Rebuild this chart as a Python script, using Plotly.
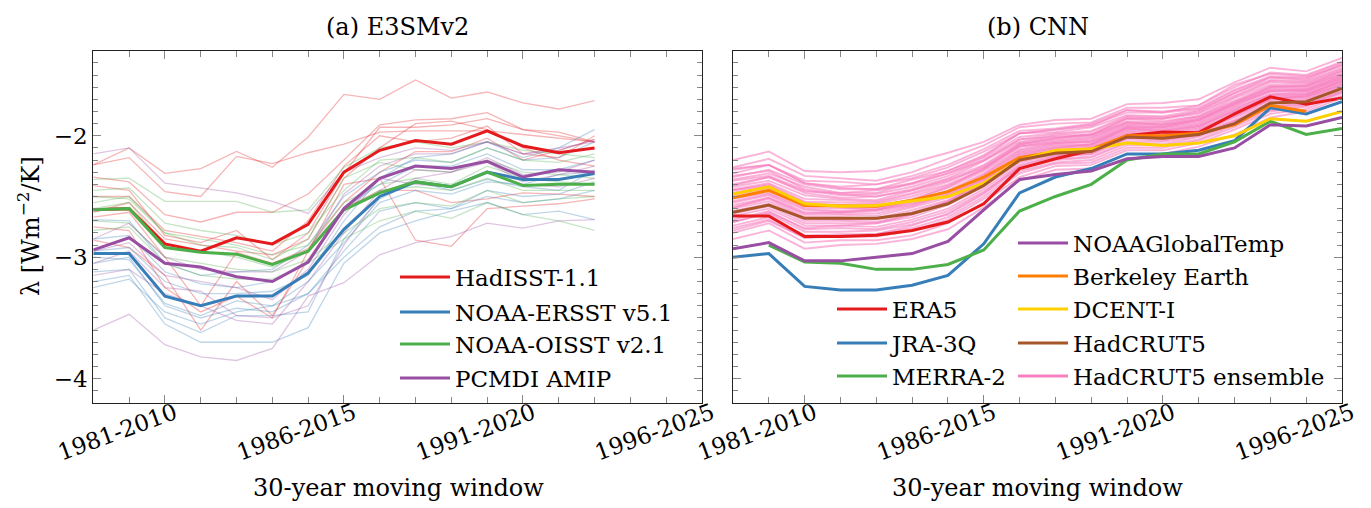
import plotly.graph_objects as go

W, H = 1371, 508

# window start years (each window spans 30 years)
years = list(range(1979, 1997))
years_e3sm = years[:15]
tick_years = [1981, 1986, 1991, 1996]
tick_labels = ["1981-2010", "1986-2015", "1991-2020", "1996-2025"]

# ---------------- (a) E3SMv2: feedback per SST/SIC forcing dataset ----------------
hadisst = [-2.61, -2.60, -2.89, -2.95, -2.84, -2.89, -2.73, -2.30, -2.12, -2.04, -2.07, -1.96, -2.085, -2.14, -2.10]
ersst = [-2.97, -2.97, -3.32, -3.40, -3.32, -3.32, -3.13, -2.77, -2.50, -2.38, -2.42, -2.30, -2.36, -2.36, -2.31]
oisst = [-2.61, -2.60, -2.92, -2.96, -2.975, -3.06, -2.95, -2.61, -2.47, -2.38, -2.42, -2.30, -2.41, -2.40, -2.40]
pcmdi = [-2.94, -2.84, -3.05, -3.08, -3.16, -3.20, -3.04, -2.60, -2.35, -2.25, -2.27, -2.21, -2.34, -2.28, -2.30]

# individual E3SMv2 ensemble members
hadisst_members = [
    [-2.24, -2.10, -2.31, -2.27, -2.13, -2.26, -2.01, -1.66, -1.70, -1.54, -1.69, -1.64, -1.73, -1.78, -1.71],
    [-2.24, -2.18, -2.46, -2.50, -2.17, -2.23, -2.14, -2.07, -1.97, -1.96, -1.96, -1.96, -1.99, -2.02, -2.05],
    [-2.34, -2.38, -2.65, -2.71, -2.63, -2.63, -2.48, -2.20, -1.91, -1.87, -1.86, -1.81, -1.95, -1.97, -2.05],
    [-2.41, -2.45, -2.82, -2.88, -2.78, -3.02, -2.80, -2.31, -1.93, -1.93, -1.91, -1.86, -1.95, -2.00, -2.05],
    [-2.67, -2.63, -3.00, -3.40, -2.96, -3.05, -2.93, -2.55, -2.30, -2.13, -2.13, -2.02, -2.20, -2.12, -2.03],
    [-2.75, -2.78, -3.25, -3.45, -3.32, -3.50, -2.95, -2.40, -2.35, -2.86, -2.91, -2.60, -2.58, -2.56, -2.52],
    [-2.86, -2.92, -3.15, -3.60, -3.20, -3.48, -3.02, -2.60, -2.45, -2.45, -2.55, -2.52, -2.47, -2.48, -2.50],
    [-2.63, -2.55, -2.85, -2.90, -2.95, -2.98, -2.85, -2.35, -2.10, -1.90, -1.88, -1.95, -2.10, -2.20, -2.25],
    [-2.50, -2.50, -2.78, -2.83, -2.88, -2.95, -2.70, -2.25, -2.00, -2.05, -2.02, -1.92, -2.15, -2.18, -2.00],
]
ersst_members = [
    [-2.69, -2.70, -3.05, -3.15, -3.12, -3.10, -2.90, -2.50, -2.30, -2.20, -2.22, -2.10, -2.20, -2.18, -2.05],
    [-3.05, -3.00, -3.40, -3.50, -3.42, -3.45, -3.30, -2.95, -2.62, -2.55, -2.60, -2.45, -2.50, -2.48, -2.38],
    [-3.12, -3.10, -3.50, -3.62, -3.48, -3.48, -3.45, -2.85, -2.52, -2.38, -2.45, -2.36, -2.42, -2.45, -2.28],
    [-3.20, -3.15, -3.55, -3.70, -3.70, -3.70, -3.58, -3.05, -2.80, -2.70, -2.62, -2.55, -2.65, -2.62, -2.69],
    [-3.25, -3.18, -3.45, -3.55, -3.45, -3.40, -3.30, -3.00, -2.75, -2.62, -2.60, -2.50, -2.55, -2.52, -2.45],
    [-2.95, -2.92, -3.20, -3.30, -3.30, -3.28, -3.15, -2.70, -2.35, -2.18, -2.15, -2.05, -2.18, -2.10, -1.95],
    [-2.85, -2.82, -3.12, -3.22, -3.25, -3.20, -3.05, -2.60, -2.40, -2.25, -2.25, -2.15, -2.28, -2.28, -2.20],
    [-3.00, -3.02, -3.38, -3.48, -3.36, -3.40, -3.20, -2.88, -2.55, -2.45, -2.48, -2.38, -2.40, -2.32, -2.30],
]
oisst_members = [
    [-2.36, -2.35, -2.54, -2.54, -2.54, -2.63, -2.61, -2.26, -2.10, -2.05, -2.10, -2.05, -2.12, -2.15, -2.18],
    [-2.45, -2.43, -2.72, -2.78, -2.82, -2.90, -2.80, -2.45, -2.20, -2.18, -2.22, -2.10, -2.20, -2.22, -2.15],
    [-2.50, -2.52, -2.80, -2.85, -2.90, -2.98, -2.90, -2.55, -2.40, -2.35, -2.40, -2.25, -2.35, -2.38, -2.40],
    [-2.70, -2.72, -3.00, -3.05, -3.10, -3.12, -3.02, -2.80, -2.60, -2.55, -2.58, -2.45, -2.55, -2.52, -2.50],
    [-2.78, -2.75, -3.05, -3.15, -3.18, -3.18, -3.05, -2.85, -2.70, -2.62, -2.68, -2.55, -2.65, -2.70, -2.78],
    [-2.60, -2.55, -2.90, -2.95, -3.00, -3.08, -2.95, -2.62, -2.45, -2.42, -2.45, -2.35, -2.45, -2.45, -2.45],
    [-2.55, -2.50, -2.80, -2.90, -2.92, -3.02, -2.85, -2.35, -2.22, -2.28, -2.30, -2.20, -2.30, -2.32, -2.35],
]
pcmdi_members = [
    [-2.15, -2.10, -2.39, -2.43, -2.47, -2.54, -2.64, -2.30, -2.18, -2.10, -2.12, -2.05, -2.15, -2.12, -2.03],
    [-3.60, -3.47, -3.72, -3.82, -3.85, -3.75, -3.32, -3.21, -2.98, -2.88, -2.83, -2.72, -2.76, -2.70, -2.69],
    [-3.05, -2.95, -3.25, -3.28, -3.48, -3.50, -3.40, -2.90, -2.50, -2.35, -2.30, -2.22, -2.38, -2.32, -2.25],
    [-3.15, -3.10, -3.30, -3.40, -3.52, -3.55, -3.20, -2.80, -2.45, -2.28, -2.30, -2.18, -2.32, -2.30, -2.20],
    [-2.85, -2.72, -3.00, -3.10, -3.12, -3.12, -2.95, -2.48, -2.25, -2.15, -2.15, -2.05, -2.15, -2.10, -2.05],
    [-2.95, -2.88, -3.15, -3.20, -3.25, -3.35, -3.10, -2.65, -2.35, -2.40, -2.42, -2.30, -2.40, -2.42, -2.35],
]

# ---------------- (b) CNN: feedback inferred from observed temperature ----------------
era5 = [-2.66, -2.66, -2.83, -2.83, -2.82, -2.78, -2.71, -2.56, -2.27, -2.19, -2.12, -2.00, -1.97, -1.975, -1.82, -1.68, -1.74, -1.69]
jra3q = [-3.00, -2.97, -3.24, -3.27, -3.27, -3.23, -3.15, -2.89, -2.47, -2.34, -2.27, -2.15, -2.15, -2.12, -2.04, -1.77, -1.82, -1.72]
merra2 = [None, -2.90, -3.04, -3.05, -3.10, -3.10, -3.06, -2.94, -2.62, -2.50, -2.40, -2.20, -2.15, -2.15, -2.05, -1.88, -1.99, -1.94]
noaaglobaltemp = [-2.93, -2.88, -3.03, -3.03, -3.00, -2.97, -2.87, -2.61, -2.36, -2.32, -2.29, -2.19, -2.17, -2.17, -2.10, -1.91, -1.92, -1.85]
berkeley = [-2.51, -2.45, -2.575, -2.58, -2.58, -2.53, -2.46, -2.34, -2.18, -2.13, -2.11, -2.00, -2.00, -1.98, -1.91, -1.75, -1.80, None]
dcent = [-2.48, -2.42, -2.56, -2.58, -2.575, -2.54, -2.50, -2.39, -2.20, -2.12, -2.11, -2.06, -2.08, -2.06, -2.00, -1.86, -1.88, -1.80]
hadcrut5 = [-2.63, -2.57, -2.68, -2.68, -2.68, -2.64, -2.56, -2.41, -2.20, -2.145, -2.13, -2.01, -2.02, -1.99, -1.90, -1.73, -1.72, -1.61]

hadcrut5_members = [
    [-2.20, -2.13, -2.29, -2.30, -2.29, -2.22, -2.14, -2.05, -1.91, -1.87, -1.86, -1.74, -1.73, -1.70, -1.56, -1.44, -1.47, -1.36],
    [-2.26, -2.19, -2.33, -2.35, -2.37, -2.30, -2.19, -2.08, -1.93, -1.90, -1.89, -1.77, -1.77, -1.75, -1.58, -1.49, -1.51, -1.40],
    [-2.27, -2.24, -2.37, -2.38, -2.40, -2.33, -2.24, -2.11, -1.96, -1.94, -1.90, -1.79, -1.80, -1.77, -1.62, -1.51, -1.52, -1.42],
    [-2.31, -2.24, -2.39, -2.42, -2.40, -2.35, -2.26, -2.13, -1.98, -1.95, -1.91, -1.81, -1.81, -1.78, -1.63, -1.52, -1.54, -1.42],
    [-2.34, -2.28, -2.40, -2.44, -2.44, -2.36, -2.29, -2.17, -1.98, -1.97, -1.93, -1.83, -1.84, -1.79, -1.65, -1.54, -1.55, -1.44],
    [-2.36, -2.31, -2.42, -2.47, -2.45, -2.40, -2.31, -2.18, -2.01, -1.98, -1.96, -1.84, -1.85, -1.81, -1.67, -1.55, -1.56, -1.45],
    [-2.37, -2.33, -2.45, -2.49, -2.48, -2.42, -2.33, -2.20, -2.03, -1.99, -1.97, -1.85, -1.86, -1.82, -1.68, -1.56, -1.57, -1.46],
    [-2.41, -2.34, -2.47, -2.51, -2.50, -2.44, -2.35, -2.21, -2.05, -2.00, -1.99, -1.86, -1.88, -1.84, -1.69, -1.58, -1.58, -1.47],
    [-2.42, -2.37, -2.49, -2.52, -2.53, -2.45, -2.36, -2.24, -2.06, -2.02, -1.99, -1.88, -1.89, -1.84, -1.71, -1.59, -1.59, -1.49],
    [-2.44, -2.39, -2.52, -2.53, -2.54, -2.47, -2.38, -2.25, -2.07, -2.03, -2.01, -1.89, -1.90, -1.85, -1.72, -1.60, -1.60, -1.49],
    [-2.45, -2.40, -2.54, -2.55, -2.55, -2.48, -2.40, -2.27, -2.08, -2.04, -2.02, -1.90, -1.91, -1.86, -1.73, -1.61, -1.61, -1.50],
    [-2.47, -2.42, -2.55, -2.57, -2.56, -2.50, -2.41, -2.28, -2.09, -2.05, -2.03, -1.91, -1.92, -1.87, -1.74, -1.62, -1.62, -1.51],
    [-2.49, -2.43, -2.57, -2.58, -2.59, -2.52, -2.43, -2.29, -2.11, -2.06, -2.04, -1.92, -1.93, -1.88, -1.75, -1.63, -1.62, -1.51],
    [-2.51, -2.45, -2.59, -2.60, -2.60, -2.54, -2.45, -2.31, -2.12, -2.07, -2.05, -1.93, -1.94, -1.89, -1.76, -1.64, -1.63, -1.52],
    [-2.52, -2.47, -2.60, -2.62, -2.61, -2.55, -2.47, -2.32, -2.13, -2.08, -2.07, -1.94, -1.95, -1.90, -1.77, -1.66, -1.64, -1.53],
    [-2.54, -2.48, -2.61, -2.63, -2.62, -2.57, -2.48, -2.33, -2.14, -2.09, -2.07, -1.95, -1.96, -1.91, -1.78, -1.66, -1.65, -1.54],
    [-2.55, -2.49, -2.63, -2.64, -2.64, -2.58, -2.49, -2.35, -2.15, -2.10, -2.08, -1.96, -1.97, -1.92, -1.79, -1.67, -1.66, -1.55],
    [-2.57, -2.51, -2.65, -2.65, -2.66, -2.59, -2.51, -2.36, -2.17, -2.11, -2.09, -1.97, -1.98, -1.93, -1.80, -1.68, -1.66, -1.55],
    [-2.59, -2.52, -2.67, -2.67, -2.68, -2.61, -2.53, -2.38, -2.18, -2.12, -2.10, -1.98, -1.99, -1.94, -1.82, -1.69, -1.67, -1.56],
    [-2.60, -2.54, -2.68, -2.69, -2.69, -2.63, -2.54, -2.39, -2.19, -2.13, -2.11, -1.99, -2.00, -1.95, -1.83, -1.70, -1.68, -1.57],
    [-2.62, -2.56, -2.70, -2.70, -2.71, -2.65, -2.55, -2.40, -2.21, -2.14, -2.13, -2.00, -2.01, -1.96, -1.84, -1.71, -1.69, -1.58],
    [-2.64, -2.58, -2.72, -2.72, -2.72, -2.67, -2.57, -2.42, -2.22, -2.16, -2.14, -2.02, -2.02, -1.97, -1.85, -1.73, -1.70, -1.59],
    [-2.66, -2.60, -2.74, -2.74, -2.75, -2.69, -2.60, -2.44, -2.24, -2.17, -2.15, -2.03, -2.04, -1.98, -1.87, -1.74, -1.71, -1.60],
    [-2.69, -2.62, -2.77, -2.76, -2.77, -2.71, -2.62, -2.46, -2.26, -2.19, -2.17, -2.05, -2.05, -2.00, -1.88, -1.76, -1.72, -1.61],
    [-2.71, -2.64, -2.79, -2.79, -2.78, -2.73, -2.65, -2.48, -2.27, -2.20, -2.18, -2.06, -2.07, -2.01, -1.90, -1.77, -1.74, -1.63],
    [-2.74, -2.67, -2.82, -2.81, -2.81, -2.76, -2.67, -2.50, -2.29, -2.22, -2.20, -2.08, -2.08, -2.03, -1.91, -1.79, -1.75, -1.64],
    [-2.76, -2.69, -2.84, -2.83, -2.83, -2.78, -2.69, -2.52, -2.31, -2.23, -2.22, -2.10, -2.10, -2.04, -1.93, -1.80, -1.76, -1.65],
    [-2.80, -2.72, -2.88, -2.86, -2.86, -2.82, -2.72, -2.55, -2.34, -2.25, -2.24, -2.12, -2.12, -2.06, -1.95, -1.82, -1.78, -1.67],
    [-2.85, -2.78, -2.93, -2.90, -2.89, -2.85, -2.77, -2.59, -2.37, -2.28, -2.27, -2.15, -2.15, -2.09, -1.99, -1.85, -1.80, -1.69],
    [-2.33, -2.29, -2.44, -2.48, -2.50, -2.45, -2.37, -2.26, -2.09, -2.06, -2.05, -1.94, -1.96, -1.92, -1.80, -1.69, -1.68, -1.58],
    [-2.71, -2.63, -2.76, -2.74, -2.72, -2.65, -2.54, -2.37, -2.16, -2.10, -2.07, -1.93, -1.93, -1.87, -1.73, -1.60, -1.59, -1.47],
    [-2.45, -2.41, -2.56, -2.59, -2.61, -2.56, -2.49, -2.36, -2.18, -2.13, -2.12, -2.01, -2.03, -1.99, -1.88, -1.76, -1.74, -1.64],
    [-2.59, -2.51, -2.64, -2.63, -2.61, -2.53, -2.42, -2.27, -2.07, -2.02, -1.99, -1.86, -1.86, -1.80, -1.65, -1.52, -1.53, -1.41],
    [-2.28, -2.24, -2.39, -2.43, -2.44, -2.39, -2.31, -2.20, -2.03, -2.01, -2.00, -1.89, -1.91, -1.87, -1.74, -1.63, -1.63, -1.53],
    [-2.78, -2.70, -2.84, -2.82, -2.81, -2.74, -2.64, -2.47, -2.25, -2.17, -2.15, -2.02, -2.02, -1.96, -1.83, -1.70, -1.67, -1.55],
    [-2.40, -2.34, -2.46, -2.47, -2.47, -2.39, -2.29, -2.16, -1.98, -1.95, -1.92, -1.79, -1.81, -1.75, -1.60, -1.48, -1.50, -1.39],
]

# ---------------- styling ----------------
RED, BLUE, GREEN, PURPLE = "#e41a1c", "#377eb8", "#4daf4a", "#984ea3"
ORANGE, YELLOW, BROWN, PINK = "#ff7f00", "#ffd000", "#a65628", "#f781bf"
SERIF = "DejaVu Serif"
FS = 23


def faint(hex_color, alpha):
    h = hex_color.lstrip("#")
    r, g, b = int(h[0:2], 16), int(h[2:4], 16), int(h[4:6], 16)
    return f"rgba({r},{g},{b},{alpha})"


fig = go.Figure()

# left panel: ensemble members first, then the four forcing datasets
for members, col in [(hadisst_members, RED), (ersst_members, BLUE),
                     (oisst_members, GREEN), (pcmdi_members, PURPLE)]:
    for m in members:
        fig.add_trace(go.Scatter(x=years_e3sm, y=m, mode="lines", xaxis="x", yaxis="y",
                                 line=dict(color=faint(col, 0.32), width=1.3),
                                 showlegend=False, hoverinfo="skip"))

left_series = [
    ("HadISST-1.1", hadisst, RED, "legend"),
    ("NOAA-ERSST v5.1", ersst, BLUE, "legend2"),
    ("NOAA-OISST v2.1", oisst, GREEN, "legend3"),
    ("PCMDI AMIP", pcmdi, PURPLE, "legend4"),
]
for name, vals, col, leg in left_series:
    fig.add_trace(go.Scatter(x=years_e3sm, y=vals, mode="lines", name=name, xaxis="x", yaxis="y",
                             line=dict(color=col, width=3), legend=leg))

# right panel: HadCRUT5 ensemble members underneath
for m in hadcrut5_members:
    fig.add_trace(go.Scatter(x=years, y=m, mode="lines", xaxis="x2", yaxis="y2",
                             name="HadCRUT5 ensemble", legend="legend12",
                             line=dict(color=faint(PINK, 0.6), width=1.9),
                             showlegend=False, hoverinfo="skip"))
# legend entry for the ensemble
fig.add_trace(go.Scatter(x=[None], y=[None], mode="lines", xaxis="x2", yaxis="y2",
                         name="HadCRUT5 ensemble", legend="legend12",
                         line=dict(color=PINK, width=3)))

right_series = [
    ("ERA5", era5, RED, "legend5"),
    ("JRA-3Q", jra3q, BLUE, "legend6"),
    ("MERRA-2", merra2, GREEN, "legend7"),
    ("NOAAGlobalTemp", noaaglobaltemp, PURPLE, "legend8"),
    ("Berkeley Earth", berkeley, ORANGE, "legend9"),
    ("DCENT-I", dcent, YELLOW, "legend10"),
    ("HadCRUT5", hadcrut5, BROWN, "legend11"),
]
for name, vals, col, leg in right_series:
    fig.add_trace(go.Scatter(x=years, y=vals, mode="lines", name=name, xaxis="x2", yaxis="y2",
                             line=dict(color=col, width=3), legend=leg))


def legend_at(x_px, y_px):
    return dict(x=x_px / W, y=1 - y_px / H, xanchor="left", yanchor="middle",
                bgcolor="rgba(0,0,0,0)", borderwidth=0, itemwidth=50,
                font=dict(family=SERIF, size=FS, color="black"))


legend_px = {
    "legend": (395, 277), "legend2": (395, 312), "legend3": (395, 344), "legend4": (395, 378),
    "legend5": (832, 309), "legend6": (832, 343), "legend7": (832, 376),
    "legend8": (1013, 243), "legend9": (1013, 276), "legend10": (1013, 309),
    "legend11": (1013, 343), "legend12": (1013, 376),
}

x_common = dict(range=[1979, 1996], tickmode="array", tickvals=tick_years, ticktext=tick_labels,
                tickangle=-20, ticks="inside", ticklen=8, tickcolor="#888", tickwidth=1,
                ticklabelstandoff=-13, ticklabelshift=10,
                minor=dict(dtick=1, tick0=1979, ticks="inside", ticklen=6, tickcolor="#888"),
                showline=True, linecolor="#222", linewidth=1.3, mirror="allticks",
                showgrid=False, zeroline=False,
                tickfont=dict(family=SERIF, size=FS, color="black"))
y_common = dict(range=[-4.2, -1.3], tickmode="array", tickvals=[-4, -3, -2],
                ticktext=["\u22124", "\u22123", "\u22122"],
                ticks="inside", ticklen=8, tickcolor="#888", tickwidth=1,
                minor=dict(dtick=0.1, tick0=-4, ticks="inside", ticklen=5, tickcolor="#888"),
                showline=True, linecolor="#222", linewidth=1.3, mirror="allticks",
                showgrid=False, zeroline=False,
                tickfont=dict(family=SERIF, size=FS, color="black"))

TXT = dict(family=SERIF, size=FS + 1, color="black")
y_dom = [(H - 403) / H, (H - 50.7) / H]
layout = dict(
    width=W, height=H, paper_bgcolor="white", plot_bgcolor="white",
    font=dict(family=SERIF, size=FS, color="black"),
    margin=dict(l=0, r=0, t=0, b=0, autoexpand=False),
    xaxis=dict(x_common, domain=[93.3 / W, 702 / W], anchor="y"),
    yaxis=dict(y_common, domain=y_dom, anchor="x"),
    xaxis2=dict(x_common, domain=[733 / W, 1342 / W], anchor="y2"),
    yaxis2=dict(y_common, domain=y_dom, anchor="x2", showticklabels=False),
    annotations=[
        dict(text="(a) E3SMv2", x=397.5 / W, y=1 - 27 / H, xanchor="center", yanchor="middle",
             xref="paper", yref="paper", showarrow=False, font=TXT),
        dict(text="(b) CNN", x=1037.5 / W, y=1 - 27 / H, xanchor="center", yanchor="middle",
             xref="paper", yref="paper", showarrow=False, font=TXT),
        dict(text="30-year moving window", x=398 / W, y=1 - 488 / H, xanchor="center", yanchor="middle",
             xref="paper", yref="paper", showarrow=False, font=TXT),
        dict(text="30-year moving window", x=1037.5 / W, y=1 - 488 / H, xanchor="center", yanchor="middle",
             xref="paper", yref="paper", showarrow=False, font=TXT),
        dict(text="\u03bb [Wm<sup>\u22122</sup>/K]", x=29 / W, y=1 - 226 / H, xanchor="center",
             yanchor="middle", xref="paper", yref="paper", textangle=-90, showarrow=False, font=TXT),
    ],
)
for key, (px, py) in legend_px.items():
    layout[key] = legend_at(px, py)

fig.update_layout(**layout)
fig.write_html("out.html")
